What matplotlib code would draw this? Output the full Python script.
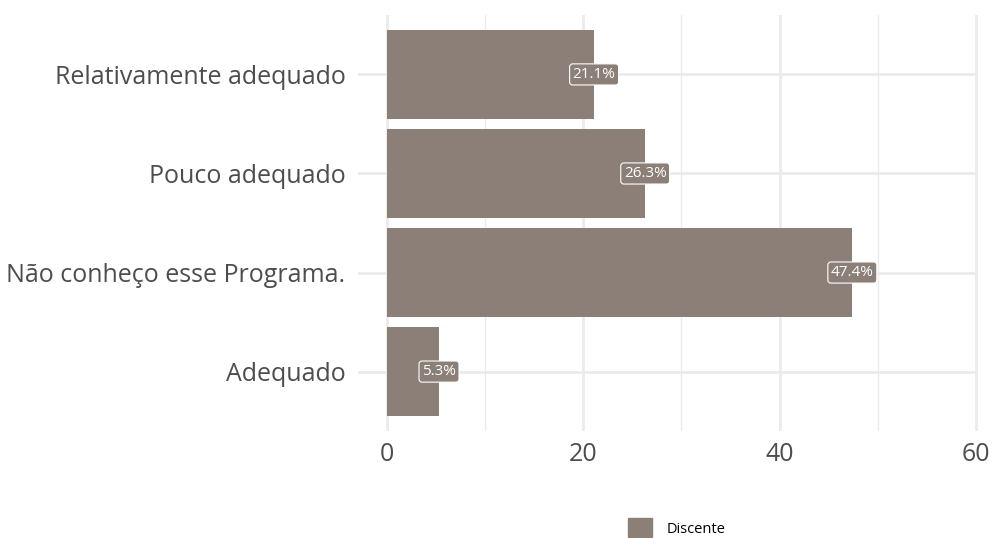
import matplotlib
matplotlib.use("Agg")
import matplotlib.pyplot as plt
from matplotlib.patches import Patch
from matplotlib.ticker import MultipleLocator

plt.rcParams['font.family'] = ['Open Sans', 'DejaVu Sans']

categorias = ["Adequado", "Não conheço esse Programa.", "Pouco adequado", "Relativamente adequado"]
percentuais = [5.3, 47.4, 26.3, 21.1]
serie = "Discente"
cor = "#8b7f77"

fig = plt.figure(figsize=(9.94, 5.38), dpi=100)
ax = fig.add_axes([358 / 994, 1 - 431 / 538, (978 - 358) / 994, (431 - 15) / 538])

pos = list(range(len(categorias)))
ax.barh(pos, percentuais, height=0.9, color=cor, zorder=2)

for y, v in zip(pos, percentuais):
    ax.text(v, y, f"{v:.1f}%", ha="center", va="center", color="white", fontsize=11, zorder=3,
            bbox=dict(boxstyle="round,pad=0.2,rounding_size=0.2", fc=cor, ec="white", lw=0.8))

ax.set_xlim(-2.95, 60.2)
ax.set_ylim(-0.6, 3.6)
ax.set_yticks(pos)
ax.set_yticklabels(categorias)
ax.xaxis.set_major_locator(MultipleLocator(20))
ax.xaxis.set_minor_locator(MultipleLocator(10))

ax.grid(True, which="major", color="#ebebeb", lw=2, zorder=0)
ax.grid(True, which="minor", axis="x", color="#ebebeb", lw=1, zorder=0)
for s in ax.spines.values():
    s.set_visible(False)
ax.tick_params(which="both", length=0, labelsize=18, labelcolor="#4d4d4d")
ax.tick_params(axis="y", pad=9)
ax.tick_params(axis="x", pad=8)

fig.legend(handles=[Patch(color=cor, label=serie)], loc="center", bbox_to_anchor=(0.681, 0.019),
           frameon=False, fontsize=10.5, handlelength=1.65, handleheight=1.65, handletextpad=1.0)

fig.savefig("out.png", dpi=100)
